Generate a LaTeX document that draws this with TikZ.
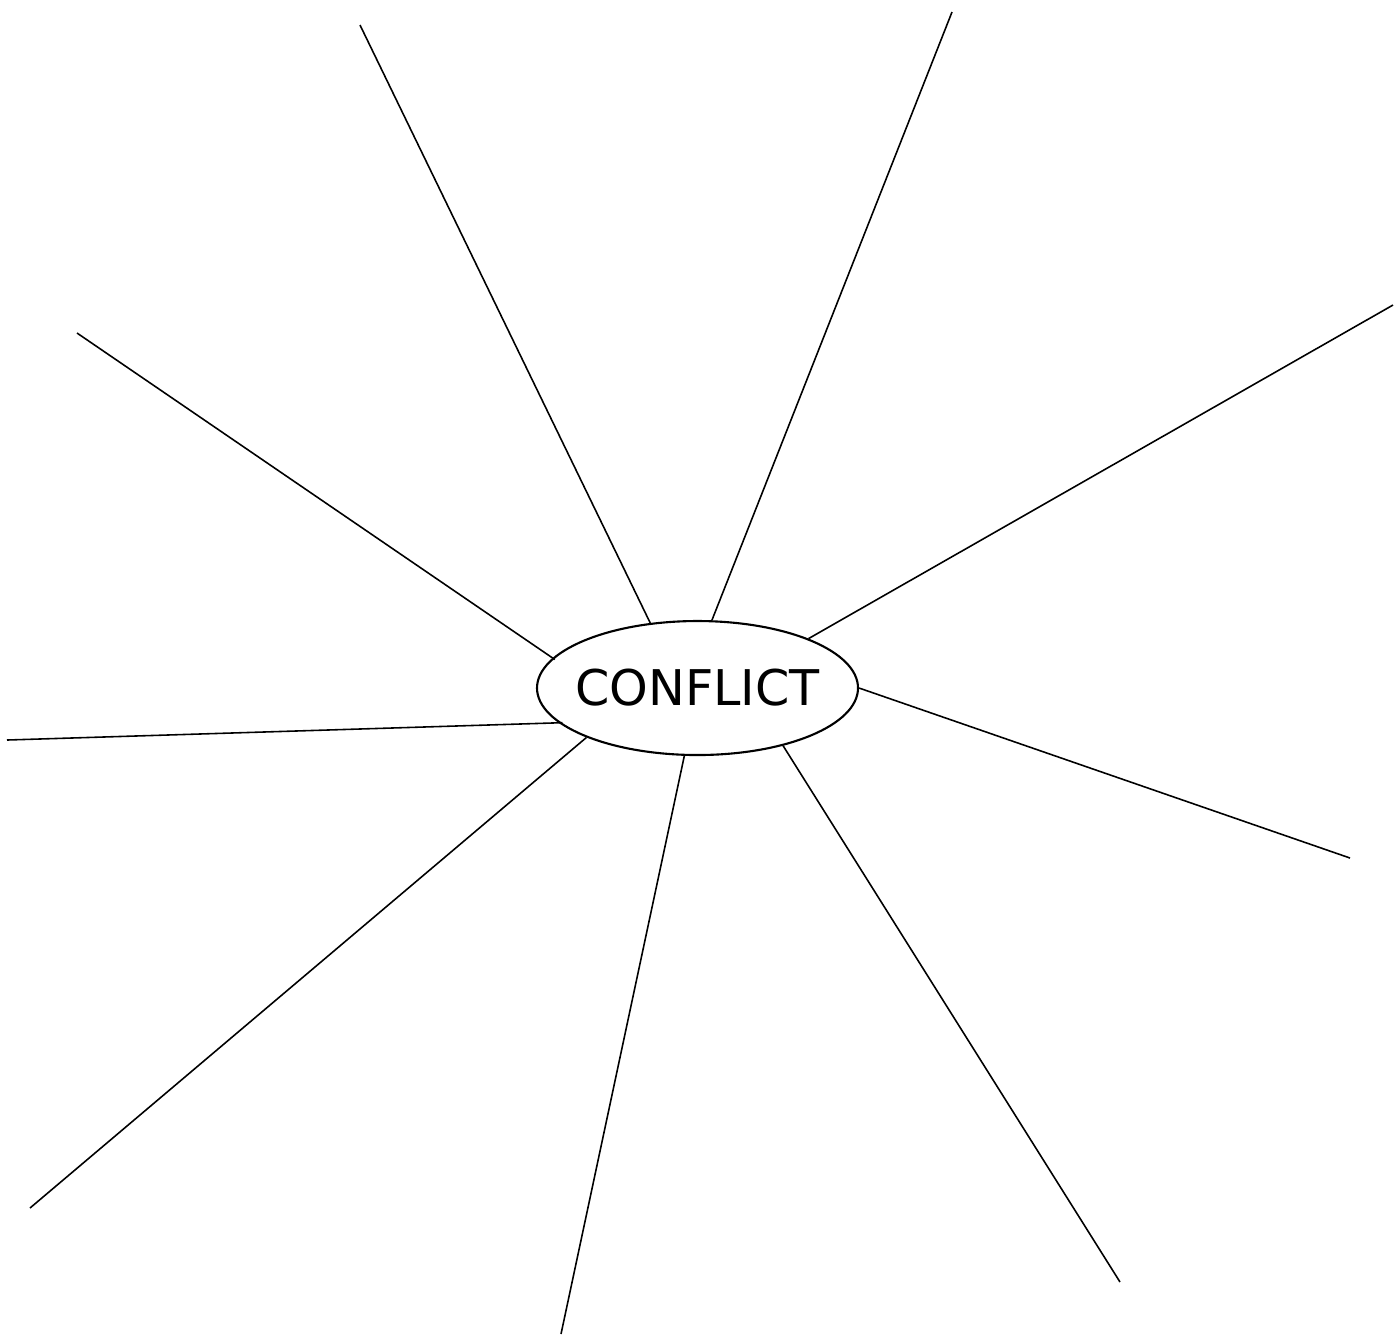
\documentclass[tikz,border=0pt]{standalone}
\usepackage{fontspec}
\usetikzlibrary{shapes.geometric}
\newfontfamily\hubfont{DejaVu Sans}
\tikzset{
  hubnode/.style={draw, ellipse, line width=0.6pt, inner sep=0pt,
                  minimum width=3.21cm, minimum height=1.34cm},
  hubtext/.style={font=\hubfont\fontsize{14}{16}\selectfont, inner sep=0pt},
  spoke/.style={line width=0.45pt},
}

\begin{document}
\begin{tikzpicture}
\useasboundingbox (0,0) rectangle (13.95,-13.38);

%% ── the hub ───────────────────────────────────────────────────────────────
\node[hubnode, label={[hubtext]center:CONFLICT}] (hub) at (6.975,-6.88) {};

%% ── free ends of the spokes ───────────────────────────────────────────────
\coordinate (tl)  at (3.60,-0.25);
\coordinate (tr)  at (9.52,-0.12);
\coordinate (ru)  at (13.93,-3.05);
\coordinate (rl)  at (13.50,-8.58);
\coordinate (br)  at (11.20,-12.82);
\coordinate (bot) at (5.61,-13.34);
\coordinate (bl)  at (0.30,-12.08);
\coordinate (lft) at (0.07,-7.40);
\coordinate (lu)  at (0.77,-3.33);

%% ── spokes ────────────────────────────────────────────────────────────────
\draw[spoke] (hub.126.5) -- (tl);
\draw[spoke] (hub.78.6)  -- (tr);
\draw[spoke] (hub.24.2)  -- (ru);
\draw[spoke] (hub.0)     -- (rl);
\draw[spoke] (hub.326.5) -- (br);
\draw[spoke] (hub.259.6) -- (bot);
\draw[spoke] (hub.204.5) -- (bl);
\draw[spoke] ([xshift=0.4mm]hub.194.2) -- (lft);
\draw[spoke] ([xshift=0.4mm]hub.169.2) -- (lu);

\end{tikzpicture}
\end{document}
